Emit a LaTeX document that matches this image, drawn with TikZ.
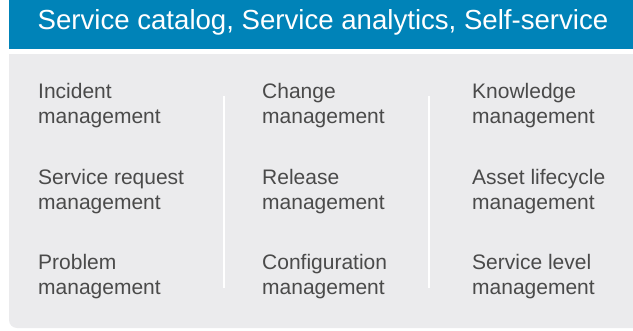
\documentclass[tikz,border=0pt]{standalone}
\usepackage{fontspec}
\setmainfont{Liberation Sans}
\definecolor{barblue}{HTML}{0083B8}
\definecolor{panelgray}{HTML}{EBEBED}
\definecolor{textgray}{HTML}{4A4A4A}
\begin{document}
\begin{tikzpicture}[x=1pt,y=-1pt,
  item/.style={anchor=base west, inner sep=0pt, align=left, text=textgray,
    font=\fontsize{21}{25.5}\selectfont},
  sep/.style={draw=white, line width=1.6pt}]
\useasboundingbox (0,0) rectangle (633,330);
\fill[barblue] (9,0) rectangle (640,49);
\fill[panelgray] (640,54) -- (9,54) [rounded corners=8pt] -- (9,328) [sharp corners] -- (640,328) -- cycle;
\node[anchor=base, inner sep=0pt, text=white, font=\fontsize{27.6}{31}\selectfont] (title) at (323,29) {Service catalog, Service analytics, Self-service};
\draw[sep] (224,96) -- (224,288);
\draw[sep] (429,96) -- (429,288);
\node[item] (inc) at (38,123.5) {Incident\\management};
\node[item] (srq) at (38,209.5) {Service request\\management};
\node[item] (prb) at (38,294.5) {Problem\\management};
\node[item] (chg) at (262,123.5) {Change\\management};
\node[item] (rel) at (262,209.5) {Release\\management};
\node[item] (cfg) at (262,294.5) {Configuration\\management};
\node[item] (knw) at (472,123.5) {Knowledge\\management};
\node[item] (alc) at (472,209.5) {Asset lifecycle\\management};
\node[item] (slm) at (472,294.5) {Service level\\management};
\end{tikzpicture}
\end{document}
